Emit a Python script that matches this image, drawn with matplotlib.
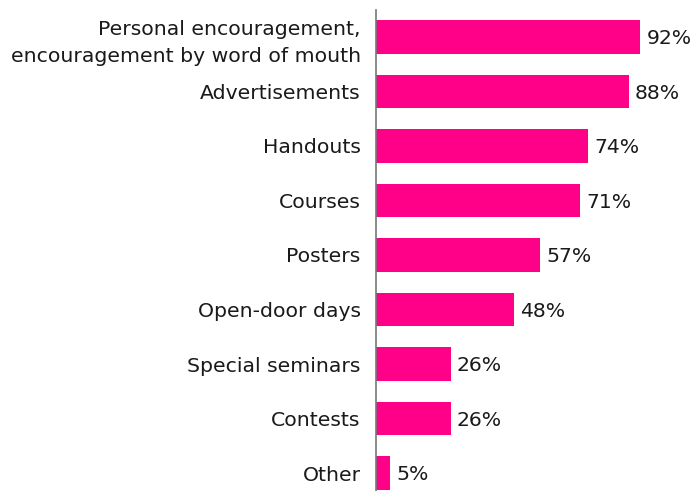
import matplotlib
matplotlib.use("Agg")
import matplotlib.pyplot as plt

plt.rcParams["font.family"] = ["DejaVu Sans"]

categories = ["Personal encouragement,\nencouragement by word of mouth", "Advertisements", "Handouts",
              "Courses", "Posters", "Open-door days", "Special seminars", "Contests", "Other"]
values = [92, 88, 74, 71, 57, 48, 26, 26, 5]

fig = plt.figure(figsize=(6.96, 4.91), dpi=100)
ax = fig.add_axes([376/696, 0, 1 - 376/696, 1 - 10/491])
y = list(range(len(categories)))
ax.barh(y, values, height=0.62, color="#FF0088")
ax.set_ylim(8.33, -0.495)
ax.set_xlim(0, 111.5)
ax.set_yticks(y)
ax.set_yticklabels(categories, fontsize=14.7, color="#1a1a1a", linespacing=1.55)
ax.tick_params(axis="y", length=0, pad=11)
ax.set_xticks([])
for s in ["top", "right", "bottom"]:
    ax.spines[s].set_visible(False)
ax.spines["left"].set_color("#777777")
ax.spines["left"].set_linewidth(1.2)
for yi, v in zip(y, values):
    ax.text(v + 2.2, yi + 0.03, f"{v}%", va="center", ha="left", fontsize=14.7, color="#1a1a1a")
fig.savefig("out.png", dpi=100)
